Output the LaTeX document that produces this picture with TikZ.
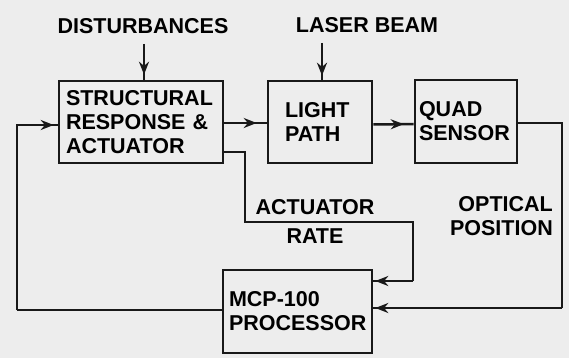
\documentclass[tikz,border=0pt]{standalone}
\usepackage{fontspec}
\setmainfont{Liberation Sans}
\usetikzlibrary{arrows.meta,decorations.markings,calc}
\begin{document}
\begin{tikzpicture}[x=1pt,y=-1pt,
  font=\fontsize{21.5}{24}\selectfont\bfseries,
  blk/.style={draw=black!90, line width=2.6pt, rectangle, align=left, inner ysep=0pt},
  lbl/.style={inner sep=0pt, align=left},
  wire/.style={draw=black!90, line width=2.5pt},
  tipat/.style={postaction={decorate, decoration={markings,
      mark=at position #1 with {\arrow{Stealth[length=13pt,width=10pt]}}}}}
]
\useasboundingbox[fill=black!7] (0,0) rectangle (569,358);

% blocks
\node[blk, minimum width=164, minimum height=82, text width=150, inner xsep=7]
  (struct) at (141,122) {STRUCTURAL\\RESPONSE \&\\ACTUATOR};
\node[blk, minimum width=104, minimum height=82, text width=70, inner xsep=17]
  (light) at (320,122) {LIGHT\\PATH};
\node[blk, minimum width=102, minimum height=83, text width=94, inner xsep=4]
  (quad) at (466,121.5) {QUAD\\SENSOR};
\node[blk, minimum width=149, minimum height=83, text width=137, inner xsep=6]
  (mcp) at (297.5,311.5) {MCP-100\\PROCESSOR};

% labels
\node[lbl] (dist) at (143,26) {DISTURBANCES};
\node[lbl] (laser) at (367,25) {LASER BEAM};
\node[lbl, align=center, font=\fontsize{21.5}{29}\selectfont\bfseries] (act) at (315,221) {ACTUATOR\\RATE};
\node[lbl, align=right, anchor=east] (opt) at (553,216) {OPTICAL\\POSITION};

% corner coordinates
\coordinate (a1) at (245,222);
\coordinate (a2) at (413,281);
\coordinate (o1) at (562,308);
\coordinate (l1) at (17,310);

% connectors
\draw[wire, tipat=-5pt] (dist.south -| struct.north) ++(3,10) coordinate (db) -- (db |- struct.north);
\draw[wire, tipat=-4pt] (laser.south -| light.north) ++(2,10) coordinate (lb) -- (lb |- light.north);
\draw[wire, tipat=-10pt] ([yshift=-1]struct.east) -- ([yshift=-1]light.west);
\draw[wire, tipat=-10pt] ([yshift=-2.5]light.west -| light.east) -- ([yshift=-2.5]quad.west);
\draw[wire] ([yshift=-30]struct.east) -| (a1) -| (a2);
\draw[wire, tipat=-2pt] (a2) -- (a2 -| mcp.east);
\draw[wire] ([yshift=-1.5]quad.east) -| (o1);
\draw[wire, tipat=-2pt] (o1) -- (o1 -| mcp.east);
\draw[wire] (mcp.west |- l1) -- (l1);
\draw[wire, tipat=-4pt] (l1) |- ([yshift=-3]struct.west);
\end{tikzpicture}
\end{document}
